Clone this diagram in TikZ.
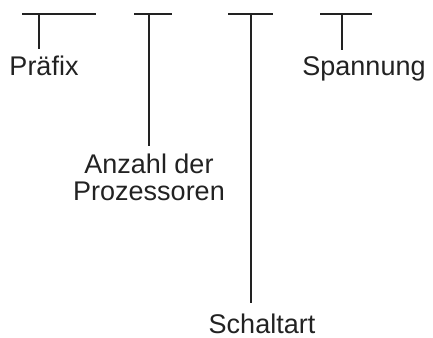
\documentclass[tikz,border=0pt]{standalone}
\usepackage{fontspec}
\setmainfont{Liberation Sans}
\definecolor{ink}{HTML}{222222}
\begin{document}
\begin{tikzpicture}[x=1pt,y=-1pt,
  bar/.style={draw=ink,line width=2pt},
  label/.style={inner sep=0pt,text=ink,font=\fontsize{27}{27}\selectfont,align=center}]
\useasboundingbox (0,0) rectangle (433,337);
% horizontal bars of the four fields
\draw[bar] (22,14) -- (96,14);
\draw[bar] (134,14) -- (172,14);
\draw[bar] (228,14) -- (273,14);
\draw[bar] (320,14) -- (372,14);
% stems leave the bars here
\coordinate (t1) at (39,14);
\coordinate (t2) at (149,14);
\coordinate (t3) at (251,14);
\coordinate (t4) at (342,14);
% field names
\node[label,anchor=base] (prefix) at (44,75) {Präfix};
\node[label,anchor=base] (cpus) at (149,200) {Anzahl der\\Prozessoren};
\node[label,anchor=base] (mode) at (262,333) {Schaltart};
\node[label,anchor=base] (volt) at (364,75) {Spannung};
% stems
\draw[bar,shorten >=6pt] (t1) -- (t1 |- prefix.north);
\draw[bar,shorten >=7pt] (t2) -- (t2 |- cpus.north);
\draw[bar,shorten >=10pt] (t3) -- (t3 |- mode.north);
\draw[bar,shorten >=6pt] (t4) -- (t4 |- volt.north);
\end{tikzpicture}
\end{document}
